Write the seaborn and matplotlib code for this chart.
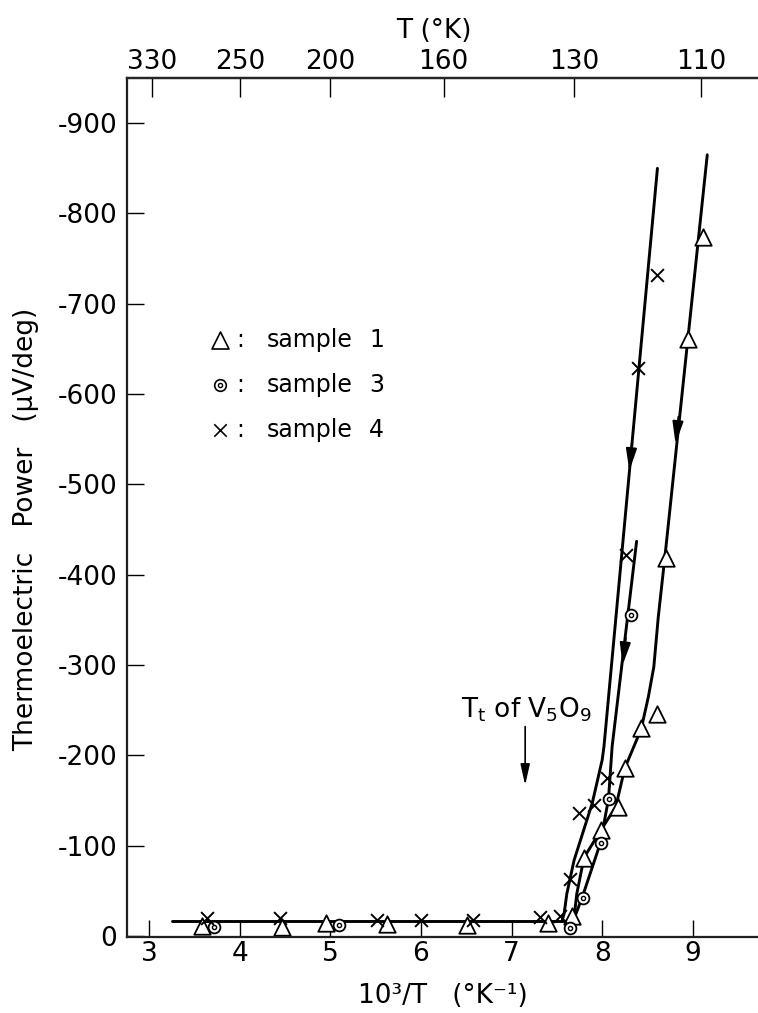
import numpy as np
import pandas as pd
import matplotlib
matplotlib.use("Agg")
import matplotlib.pyplot as plt
import seaborn as sns

sns.set_theme(style="ticks")
plt.rcParams["font.family"] = ["DejaVu Sans"]
plt.rcParams["axes.unicode_minus"] = False
plt.rcParams["mathtext.default"] = "regular"
plt.rcParams["text.color"] = "black"
plt.rcParams["axes.labelcolor"] = "black"
plt.rcParams["xtick.color"] = "black"
plt.rcParams["ytick.color"] = "black"

# --- measured points: 10^3/T (1/K) and thermoelectric power (uV/deg) ---
s1_x = [3.58, 4.47, 4.95, 5.63, 6.51, 7.40, 7.67, 7.80, 7.985, 8.17, 8.25, 8.43, 8.60, 8.71, 8.95, 9.11]
s1_y = [-11, -10, -14, -13, -12, -14, -22, -87, -118, -143, -186, -230, -246, -419, -661, -774]

s3_x = [3.72, 5.09, 7.64, 7.79, 7.99, 8.07, 8.32]
s3_y = [-10, -12, -9, -42, -103, -152, -356]

s4_x = [3.64, 4.44, 5.51, 6.00, 6.57, 7.31, 7.53, 7.65, 7.74, 7.91, 8.05, 8.26, 8.40, 8.61]
s4_y = [-20, -20, -18, -18, -18, -21, -22, -63, -136, -145, -175, -422, -629, -732]

# --- hand-drawn guide curves ---
base_x = [3.25, 7.67]
base_y = [-17, -17]
c1_x = [9.16, 8.70, 8.62, 8.57, 8.51, 8.43, 8.25, 8.15, 7.99, 7.80, 7.72, 7.69, 7.67]
c1_y = [-865, -427, -354, -298, -265, -229, -186, -143, -118, -87, -47, -21, -17]
c3_x = [8.38, 8.11, 8.07, 7.98, 7.87, 7.78, 7.67, 7.65]
c3_y = [-437, -210, -152, -103, -70, -43, -14, -7]
c4_x = [8.61, 8.02, 8.00, 7.89, 7.69, 7.61, 7.58, 7.56]
c4_y = [-850, -210, -195, -147, -84, -47, -25, -18]

# direction arrows on the curves: (tip x, tip y, slope dx per unit y)
arrow_x = [8.30, 8.81, 8.225]
arrow_y = [-515, -545, -300]
arrow_slope = [0.00092, 0.00105, 0.00119]

# axis ticks
x_ticks = [3, 4, 5, 6, 7, 8, 9]
y_ticks = [0, -100, -200, -300, -400, -500, -600, -700, -800, -900]
t_ticks = [330, 250, 200, 160, 130, 110]

legend_labels = ["sample", "sample", "sample"]
legend_nums = ["1", "3", "4"]

FS = 19
FS_LEG = 17
LW = 2.1

fig = plt.figure(figsize=(7.58, 10.13), dpi=100)
ax = fig.add_axes([127 / 758, 1 - 937 / 1013, (758 - 127) / 758, (937 - 78) / 1013])

curves = pd.concat([
    pd.DataFrame({"x": base_x, "y": base_y, "c": "base"}),
    pd.DataFrame({"x": c1_x, "y": c1_y, "c": "c1"}),
    pd.DataFrame({"x": c3_x, "y": c3_y, "c": "c3"}),
    pd.DataFrame({"x": c4_x, "y": c4_y, "c": "c4"}),
])
for name, grp in curves.groupby("c"):
    sns.lineplot(data=grp, x="x", y="y", sort=False, estimator=None,
                 color="black", lw=LW, ax=ax, zorder=2)

for tx, ty, sl in zip(arrow_x, arrow_y, arrow_slope):
    ax.annotate("", xy=(tx, ty), xytext=(tx + sl * 30, ty - 30),
                arrowprops=dict(arrowstyle="-|>,head_length=0.9,head_width=0.22",
                                color="black", lw=1.4, mutation_scale=15,
                                shrinkA=0, shrinkB=0), zorder=3)

# sample 1: open triangles
sns.scatterplot(x=s1_x, y=s1_y, marker="^", s=140, facecolor="white",
                edgecolor="black", linewidth=1.3, ax=ax, zorder=4)
# sample 3: circle with dot
sns.scatterplot(x=s3_x, y=s3_y, marker="o", s=72, facecolor="white",
                edgecolor="black", linewidth=1.3, ax=ax, zorder=4)
sns.scatterplot(x=s3_x, y=s3_y, marker="o", s=9, facecolor="white",
                edgecolor="black", linewidth=1.0, ax=ax, zorder=5)
# sample 4: crosses
sns.scatterplot(x=s4_x, y=s4_y, marker="x", s=85, color="black",
                linewidth=1.4, ax=ax, zorder=4)

# legend drawn in data space
leg_x, colon_x, text_x, num_x = 3.78, 4.0, 4.30, 5.51
leg_y = [-660, -610, -560]
sns.scatterplot(x=[leg_x], y=[leg_y[0]], marker="^", s=150, facecolor="white",
                edgecolor="black", linewidth=1.2, ax=ax)
sns.scatterplot(x=[leg_x], y=[leg_y[1]], marker="o", s=70, facecolor="white",
                edgecolor="black", linewidth=1.2, ax=ax)
sns.scatterplot(x=[leg_x], y=[leg_y[1]], marker="o", s=9, facecolor="white",
                edgecolor="black", linewidth=1.0, ax=ax)
sns.scatterplot(x=[leg_x], y=[leg_y[2]], marker="x", s=80, color="black",
                linewidth=1.2, ax=ax)
for yy, lab, num in zip(leg_y, legend_labels, legend_nums):
    ax.text(colon_x, yy, ":", fontsize=FS_LEG, ha="center", va="center")
    ax.text(text_x, yy, lab, fontsize=FS_LEG, ha="left", va="center")
    ax.text(num_x, yy, num, fontsize=FS_LEG, ha="center", va="center")

# transition marker
ax.annotate("", xy=(7.15, -167), xytext=(7.15, -232),
            arrowprops=dict(arrowstyle="-|>,head_length=0.9,head_width=0.2",
                            color="black", lw=1.2, mutation_scale=14,
                            shrinkA=0, shrinkB=0))
ax.text(6.44, -242, "T$_t$ of V$_5$O$_9$", fontsize=FS, ha="left", va="baseline")

ax.set_xlim(2.755, 9.72)
ax.set_ylim(1, -950)
ax.set_xticks(x_ticks)
ax.set_xticklabels([str(v) for v in x_ticks])
ax.set_yticks(y_ticks)
ax.set_yticklabels([str(v) for v in y_ticks])
ax.tick_params(axis="both", direction="in", length=12, width=1.0,
               labelsize=FS, colors="black")
ax.tick_params(axis="x", pad=3)
ax.tick_params(axis="y", pad=7)
for side in ["left", "bottom", "top"]:
    ax.spines[side].set_linewidth(1.6)
    ax.spines[side].set_color("black")
ax.spines["right"].set_visible(False)

ax.set_xlabel("10³/T   (°K⁻¹)", fontsize=FS)
ax.xaxis.set_label_coords(0.5, -0.054)
ax.set_ylabel("Thermoelectric   Power   (μV/deg)", fontsize=FS)
ax.yaxis.set_label_coords(-0.14, 0.474)

ax2 = ax.twiny()
ax2.set_xlim(ax.get_xlim())
ax2.set_xticks([1000 / t for t in t_ticks])
ax2.set_xticklabels([str(t) for t in t_ticks])
ax2.tick_params(axis="x", direction="in", length=14, width=1.0,
                labelsize=FS, pad=2, colors="black")
ax2.spines["right"].set_visible(False)
ax2.spines["top"].set_linewidth(1.6)
ax2.set_xlabel("T (°K)", fontsize=FS)
ax2.xaxis.set_label_coords(0.487, 1.046)

fig.savefig("out.png", dpi=100, facecolor="white")
